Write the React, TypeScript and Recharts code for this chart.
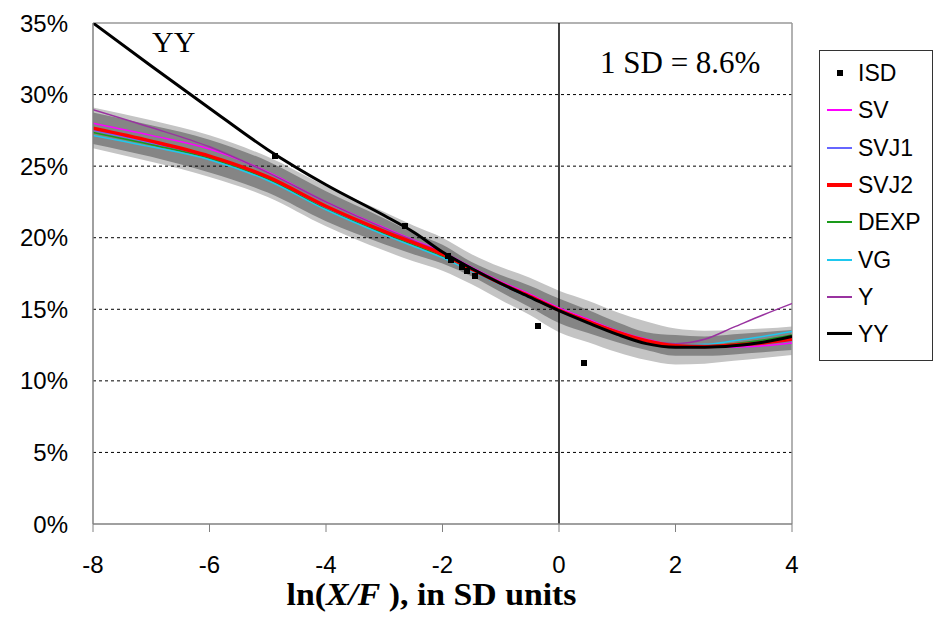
import React from 'react';
import { ComposedChart, Line, Area, Scatter, XAxis, YAxis, ReferenceLine, Label } from 'recharts';

// ---- data ----
const xGrid = [-8, -7, -6, -5, -4, -3, -2.5, -2, -1.5, -1, -0.5, 0, 0.5, 1, 1.5, 2, 2.5, 3, 3.5, 4];

const svValues = [28.0, 27.15, 26.2, 24.6, 22.5, 20.7, 19.85, 19.0, 17.95, 16.95, 16.05, 15.1, 14.3, 13.5, 12.9, 12.5, 12.35, 12.35, 12.45, 12.65];
const svj1Values = [27.5, 26.6, 25.6, 24.15, 22.1, 20.35, 19.55, 18.75, 17.75, 16.8, 15.85, 14.9, 14.1, 13.35, 12.75, 12.4, 12.35, 12.45, 12.6, 12.8];
const svj2Values = [27.65, 26.75, 25.7, 24.25, 22.2, 20.45, 19.65, 18.85, 17.8, 16.8, 15.9, 14.95, 14.15, 13.4, 12.8, 12.45, 12.4, 12.5, 12.65, 12.9];
const dexpValues = [27.35, 26.5, 25.55, 24.1, 22.0, 20.3, 19.5, 18.7, 17.7, 16.75, 15.85, 14.95, 14.15, 13.4, 12.8, 12.45, 12.45, 12.6, 12.85, 13.2];
const vgValues = [27.15, 26.35, 25.45, 24.0, 21.95, 20.2, 19.4, 18.6, 17.65, 16.7, 15.8, 14.9, 14.1, 13.35, 12.75, 12.5, 12.55, 12.8, 13.1, 13.45];
const yValues = [28.95, 27.7, 26.35, 24.55, 22.5, 20.65, 19.8, 18.95, 17.9, 16.9, 15.95, 15.0, 14.2, 13.45, 12.8, 12.6, 12.9, 13.75, 14.6, 15.4];
const yyValues = [35.0, 32.0, 29.05, 26.15, 23.7, 21.55, 20.4, 19.0, 17.85, 16.8, 15.85, 14.9, 14.05, 13.25, 12.6, 12.35, 12.35, 12.45, 12.7, 13.1];

const outerBandLow = [26.25, 25.3, 24.25, 22.85, 20.8, 19.1, 18.35, 17.7, 16.75, 15.65, 14.6, 13.4, 12.7, 12.0, 11.45, 11.15, 11.2, 11.4, 11.6, 11.8];
const outerBandHigh = [29.1, 28.2, 27.15, 25.65, 23.6, 21.8, 20.85, 20.0, 18.85, 17.95, 17.2, 16.3, 15.6, 14.8, 14.15, 13.65, 13.5, 13.55, 13.65, 13.8];
const innerBandLow = [26.55, 25.65, 24.55, 23.15, 21.15, 19.55, 18.85, 18.2, 17.3, 16.2, 15.15, 14.05, 13.35, 12.7, 12.15, 11.75, 11.75, 11.85, 12.0, 12.15];
const innerBandHigh = [28.75, 27.85, 26.85, 25.35, 23.25, 21.35, 20.35, 19.5, 18.3, 17.4, 16.65, 15.75, 14.95, 14.1, 13.4, 13.2, 13.1, 13.25, 13.4, 13.55];

const isdX = [-4.87, -2.65, -1.9, -1.85, -1.67, -1.58, -1.45, -0.36, 0.43];
const isdY = [25.7, 20.8, 18.74, 18.46, 17.95, 17.7, 17.34, 13.8, 11.26];

const xTicks = [-8, -6, -4, -2, 0, 2, 4];
const yTicks = [0, 5, 10, 15, 20, 25, 30, 35];
const gridLevels = [5, 10, 15, 20, 25, 30];

// ---- styles ----
const lineSeries = [
  { key: 'SV', color: '#ff00ff', width: 1.5 },
  { key: 'SVJ1', color: '#6666ff', width: 1.5 },
  { key: 'DEXP', color: '#1a9a1a', width: 1.5 },
  { key: 'VG', color: '#1ec8ef', width: 1.5 },
  { key: 'Y', color: '#9933a0', width: 1.5 },
  { key: 'SVJ2', color: '#ff0000', width: 3.5 },
  { key: 'YY', color: '#000000', width: 3 },
];
const legendOrder = ['ISD', 'SV', 'SVJ1', 'SVJ2', 'DEXP', 'VG', 'Y', 'YY'];

const seriesArrays: Record<string, number[]> = {
  SV: svValues,
  SVJ1: svj1Values,
  SVJ2: svj2Values,
  DEXP: dexpValues,
  VG: vgValues,
  Y: yValues,
  YY: yyValues,
};

const data = xGrid.map((x, i) => {
  const row: any = {
    x,
    outer: [outerBandLow[i], outerBandHigh[i]],
    inner: [innerBandLow[i], innerBandHigh[i]],
  };
  Object.keys(seriesArrays).forEach((k) => (row[k] = seriesArrays[k][i]));
  return row;
});

const isdData = isdX.map((x, i) => ({ x, ISD: isdY[i] }));

const sans = '"Liberation Sans", Arial, sans-serif';
const serif = '"Liberation Serif", "Times New Roman", serif';

const SquareDot = (props: any) => {
  const { cx, cy } = props;
  if (cx == null || cy == null) return null;
  return <rect x={Math.round(cx) - 3} y={Math.round(cy) - 3} width={6} height={6} fill="#000" />;
};

const XLabel = (props: any) => {
  const vb = props.viewBox || { x: 93, y: 524, width: 699, height: 96 };
  const cx = vb.x + vb.width / 2 - 11;
  return (
    <text
      x={cx}
      y={vb.y + 81}
      textAnchor="middle"
      fontFamily={serif}
      fontWeight="bold"
      fontSize={31}
      fill="#000"
      textLength={290}
      lengthAdjust="spacingAndGlyphs"
    >
      <tspan>ln(</tspan>
      <tspan fontStyle="italic">X/F</tspan>
      <tspan> ), in SD units</tspan>
    </text>
  );
};

const colorOf = (k: string) => {
  const s = lineSeries.find((l) => l.key === k);
  return s ? s.color : '#000';
};
const legendThickness = (k: string) => (k === 'SVJ2' ? 4 : k === 'YY' ? 3 : 2);

export default function App() {
  return (
    <div style={{ position: 'absolute', left: 0, top: 0, width: 939, height: 620, background: '#fff' }}>
      <ComposedChart width={939} height={620} data={data} margin={{ top: 23, right: 147, bottom: 0, left: 0 }}>
        <XAxis
          dataKey="x"
          type="number"
          domain={[-8, 4]}
          ticks={xTicks}
          allowDataOverflow
          height={96}
          tickSize={8}
          tickMargin={24}
          axisLine={{ stroke: '#808080', strokeWidth: 1.5 }}
          tickLine={{ stroke: '#808080' }}
          tick={{ fill: '#000', fontSize: 24, fontFamily: sans }}
        >
          <Label content={<XLabel />} />
        </XAxis>
        <YAxis
          type="number"
          domain={[0, 35]}
          ticks={yTicks}
          allowDataOverflow
          width={93}
          tickSize={0}
          tickMargin={25}
          tickFormatter={(v: number) => `${v}%`}
          axisLine={{ stroke: '#808080', strokeWidth: 1.5 }}
          tickLine={false}
          tick={{ fill: '#000', fontSize: 24, fontFamily: sans }}
        />
        {gridLevels.map((g) => (
          <ReferenceLine key={g} y={g} stroke="#000" strokeDasharray="3 3" strokeWidth={1} />
        ))}
        <ReferenceLine y={35} stroke="#999" strokeWidth={1.5} />
        <ReferenceLine x={4} stroke="#999" strokeWidth={1.5} />
        <Area type="monotone" dataKey="outer" stroke="none" fill="#c4c4c4" fillOpacity={1} isAnimationActive={false} activeDot={false} />
        <Area type="monotone" dataKey="inner" stroke="none" fill="#858585" fillOpacity={1} isAnimationActive={false} activeDot={false} />
        <ReferenceLine x={0} stroke="#000" strokeWidth={1.5} />
        {lineSeries.map((s) => (
          <Line
            key={s.key}
            type="monotone"
            dataKey={s.key}
            stroke={s.color}
            strokeWidth={s.width}
            dot={false}
            activeDot={false}
            isAnimationActive={false}
          />
        ))}
        <Scatter data={isdData} dataKey="ISD" shape={<SquareDot />} isAnimationActive={false} />
      </ComposedChart>

      <div style={{ position: 'absolute', left: 152, top: 24, fontFamily: serif, fontSize: 30, lineHeight: '36px', color: '#000' }}>YY</div>
      <div style={{ position: 'absolute', left: 600, top: 45, fontFamily: serif, fontSize: 31, lineHeight: '36px', color: '#000', whiteSpace: 'nowrap' }}>
        1 SD = 8.6%
      </div>

      <div
        style={{
          position: 'absolute',
          left: 819,
          top: 50,
          width: 114,
          height: 311,
          border: '1px solid #333',
          background: '#fff',
          boxSizing: 'border-box',
        }}
      >
        {legendOrder.map((k, i) => (
          <div key={k} style={{ position: 'absolute', left: 0, top: Math.round(22 + i * 37.3 - 14), height: 28, width: 112 }}>
            {k === 'ISD' ? (
              <div style={{ position: 'absolute', left: 17, top: 11, width: 6, height: 6, background: '#000' }} />
            ) : (
              <div
                style={{
                  position: 'absolute',
                  left: 7,
                  top: 14 - Math.round(legendThickness(k) / 2),
                  width: 25,
                  height: legendThickness(k),
                  background: colorOf(k),
                }}
              />
            )}
            <div style={{ position: 'absolute', left: 38, top: 0, lineHeight: '28px', fontFamily: sans, fontSize: 23, color: '#000' }}>{k}</div>
          </div>
        ))}
      </div>
    </div>
  );
}
